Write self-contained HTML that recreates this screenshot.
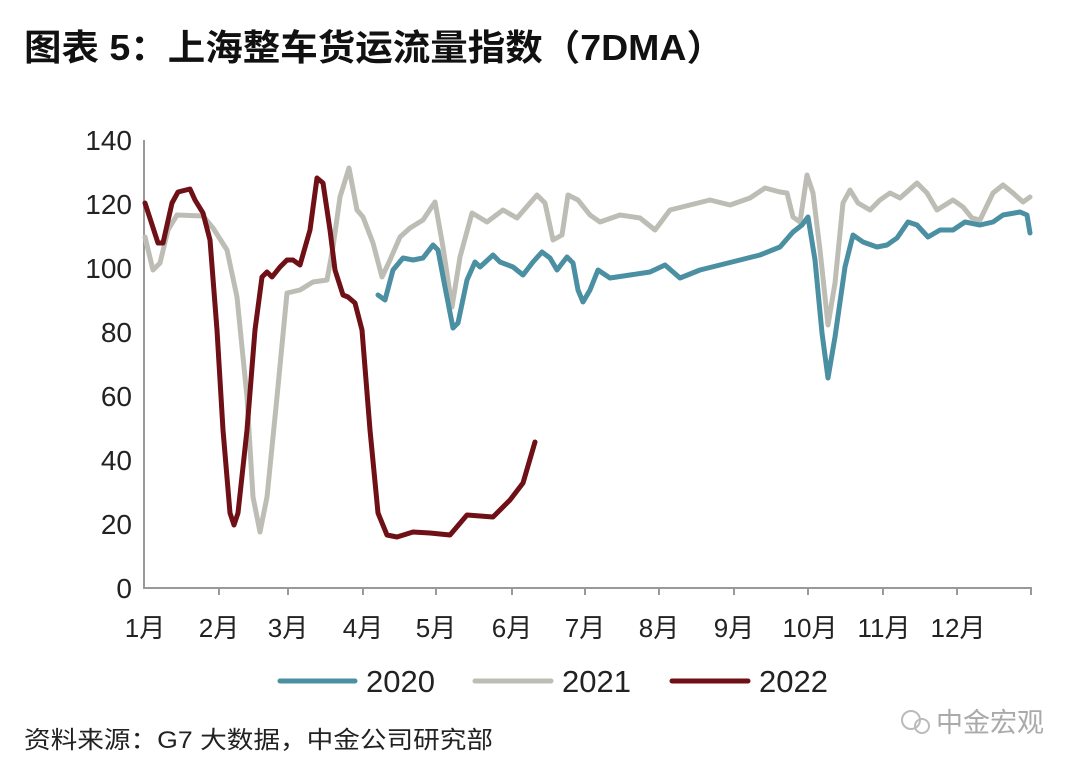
<!DOCTYPE html>
<html><head><meta charset="utf-8"><style>
body{margin:0;background:#fff;width:1080px;height:771px;overflow:hidden;font-family:"Liberation Sans","Noto Sans CJK SC",sans-serif;}
</style></head><body>
<svg width="1080" height="771" viewBox="0 0 1080 771" xmlns="http://www.w3.org/2000/svg" style="font-family:'Liberation Sans','Noto Sans CJK SC',sans-serif">
<text x="24" y="60" font-size="36" font-weight="bold" fill="#111" textLength="700" lengthAdjust="spacingAndGlyphs">图表 5：上海整车货运流量指数（7DMA）</text>
<g font-size="28" fill="#222" text-anchor="end">
<text x="132" y="598">0</text><text x="132" y="534">20</text><text x="132" y="470">40</text><text x="132" y="406">60</text><text x="132" y="342">80</text><text x="132" y="278">100</text><text x="132" y="214">120</text><text x="132" y="150">140</text>
</g>
<g stroke="#999" stroke-width="2" fill="none">
<line x1="144" y1="140" x2="144" y2="589"/><line x1="143" y1="588" x2="1032" y2="588"/>
<line x1="219" y1="588" x2="219" y2="595"/><line x1="288" y1="588" x2="288" y2="595"/><line x1="363" y1="588" x2="363" y2="595"/><line x1="436" y1="588" x2="436" y2="595"/><line x1="512" y1="588" x2="512" y2="595"/><line x1="585" y1="588" x2="585" y2="595"/><line x1="659" y1="588" x2="659" y2="595"/><line x1="734" y1="588" x2="734" y2="595"/><line x1="808" y1="588" x2="808" y2="595"/><line x1="883" y1="588" x2="883" y2="595"/><line x1="957" y1="588" x2="957" y2="595"/><line x1="1031" y1="588" x2="1031" y2="595"/>
</g>
<g font-size="26" fill="#222" text-anchor="middle">
<text x="145" y="637">1月</text><text x="219" y="637">2月</text><text x="288" y="637">3月</text><text x="363" y="637">4月</text><text x="436" y="637">5月</text><text x="512" y="637">6月</text><text x="585" y="637">7月</text><text x="659" y="637">8月</text><text x="734" y="637">9月</text><text x="810" y="637">10月</text><text x="884" y="637">11月</text><text x="958" y="637">12月</text>
</g>
<g fill="none" stroke-width="5" stroke-linejoin="round" stroke-linecap="round">
<polyline stroke="#bdbdb5" points="145,237 153,270 160,263 168,230 177,215 203,216 213,228 227,250 237,297 247,397 253,497 260,532 267,497 277,397 287,293 300,290 313,282 327,280 333,247 340,197 349,168 357,210 363,217 373,243 382,277 390,260 400,237 410,228 423,220 435,202 443,247 452,307 460,257 472,213 487,222 503,210 517,218 537,195 545,203 553,240 562,235 568,195 578,200 590,215 600,222 620,215 640,218 655,230 670,210 690,205 710,200 730,205 750,198 765,188 780,192 787,193 793,217 800,222 807,175 813,193 820,250 828,325 835,283 843,203 850,190 858,203 870,210 880,200 890,193 900,198 917,183 927,193 937,210 953,200 963,207 972,218 980,220 993,193 1003,185 1013,193 1023,202 1030,197"/>
<polyline stroke="#4a8fa2" points="378,295 385,300 393,270 403,258 413,260 423,258 433,245 438,250 445,287 453,328 458,323 467,280 475,262 480,267 493,255 500,262 513,267 523,275 533,262 542,252 550,258 557,270 567,257 573,263 578,290 583,302 590,290 598,270 610,278 630,275 650,272 665,265 680,278 700,270 720,265 740,260 760,255 780,247 793,232 802,225 808,217 815,260 822,333 828,378 835,337 845,267 853,235 863,242 877,247 887,245 897,238 908,222 917,225 928,237 940,230 953,230 965,222 980,225 993,222 1003,215 1020,212 1027,215 1030,233"/>
<polyline stroke="#6e1016" points="145,203 158,243 163,243 172,203 178,192 190,189 195,200 203,213 210,240 217,330 223,430 230,513 234,525 238,513 247,430 255,330 262,277 267,272 272,277 280,267 287,260 293,260 300,265 310,230 317,178 323,183 330,230 335,270 343,295 348,297 355,303 362,330 370,430 378,513 387,535 397,537 413,532 430,533 450,535 467,515 493,517 510,500 523,483 535,442"/>
</g>
<g stroke-width="5" stroke-linecap="round">
<line x1="280" y1="681" x2="355" y2="681" stroke="#4a8fa2"/>
<line x1="475" y1="681" x2="551" y2="681" stroke="#bdbdb5"/>
<line x1="672" y1="681" x2="748" y2="681" stroke="#6e1016"/>
</g>
<g font-size="31" fill="#222">
<text x="366" y="692">2020</text><text x="562" y="692">2021</text><text x="759" y="692">2022</text>
</g>
<text x="24" y="748" font-size="24" fill="#222" textLength="469" lengthAdjust="spacingAndGlyphs">资料来源：G7 大数据，中金公司研究部</text>
<text x="936" y="732" font-size="27" fill="#aaa">中金宏观</text>
<circle cx="911" cy="720" r="9" fill="none" stroke="#bbb" stroke-width="2"/>
<circle cx="922" cy="726" r="7" fill="none" stroke="#bbb" stroke-width="2"/>
</svg>
</body></html>
